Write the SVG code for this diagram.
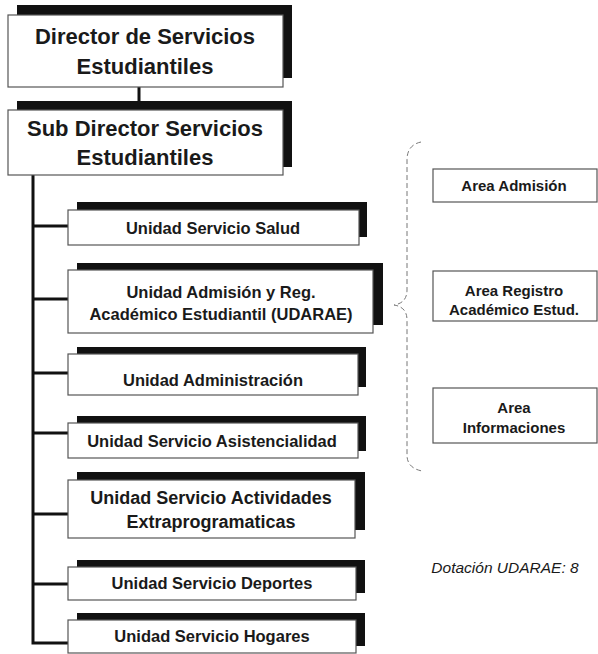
<svg xmlns="http://www.w3.org/2000/svg" width="598" height="654" viewBox="0 0 598 654">
<style>
.sh{fill:#111}
.bx{fill:#fff;stroke:#555;stroke-width:1.2}
.t{font-family:"Liberation Sans",Arial,sans-serif;font-weight:bold;fill:#1a1a1a;text-anchor:middle}
.big{font-size:22px}
.mid{font-size:16.5px}
.act{font-size:18px}
.sm{font-size:15px}
.conn{stroke:#111;stroke-width:3;fill:none}
.brace{stroke:#777;stroke-width:1;fill:none;stroke-dasharray:5 3}
</style>
<rect width="598" height="654" fill="#fff"/>
<g id="connectors">
<line class="conn" x1="139" y1="87" x2="139" y2="102"/>
<polyline class="conn" points="33,175 33,643 68,643"/>
<line class="conn" x1="33" y1="226" x2="68" y2="226"/>
<line class="conn" x1="33" y1="299" x2="68" y2="299"/>
<line class="conn" x1="33" y1="373" x2="68" y2="373"/>
<line class="conn" x1="33" y1="433" x2="68" y2="433"/>
<line class="conn" x1="33" y1="514" x2="68" y2="514"/>
<line class="conn" x1="33" y1="584" x2="68" y2="584"/>
<path class="brace" d="M421 142 Q407 145 407 160 L407 290 Q407 303 394 305 Q407 307 407 320 L407 455 Q407 468 422 471"/>
</g>
<g id="director">
<rect class="sh" x="17" y="5" width="275" height="73"/>
<rect class="bx" x="8" y="15" width="275" height="72"/>
<text class="t big" x="145" y="44">Director de Servicios</text>
<text class="t big" x="145" y="74">Estudiantiles</text>
</g>
<g id="subdirector">
<rect class="sh" x="17" y="101" width="275" height="66"/>
<rect class="bx" x="8" y="110" width="275" height="65"/>
<text class="t big" x="145" y="136">Sub Director Servicios</text>
<text class="t big" x="145" y="165">Estudiantiles</text>
</g>
<g id="salud">
<rect class="sh" x="77" y="202" width="290" height="35"/>
<rect class="bx" x="68" y="210" width="291" height="35"/>
<text class="t mid" x="213" y="234">Unidad Servicio Salud</text>
</g>
<g id="udarae">
<rect class="sh" x="77" y="263" width="306" height="62"/>
<rect class="bx" x="68" y="270" width="305" height="63"/>
<text class="t mid" x="221" y="298">Unidad Admisión y Reg.</text>
<text class="t mid" x="221" y="320">Académico Estudiantil (UDARAE)</text>
</g>
<g id="administracion">
<rect class="sh" x="77" y="347" width="289" height="40"/>
<rect class="bx" x="68" y="354" width="290" height="41"/>
<text class="t mid" x="213" y="386">Unidad Administración</text>
</g>
<g id="asistencialidad">
<rect class="sh" x="77" y="416" width="289" height="35"/>
<rect class="bx" x="68" y="423" width="290" height="35"/>
<text class="t mid" x="212" y="447">Unidad Servicio Asistencialidad</text>
</g>
<g id="actividades">
<rect class="sh" x="77" y="472" width="288" height="58"/>
<rect class="bx" x="68" y="480" width="287" height="58"/>
<text class="t act" x="211" y="504">Unidad Servicio Actividades</text>
<text class="t act" x="211" y="528">Extraprogramaticas</text>
</g>
<g id="deportes">
<rect class="sh" x="77" y="560" width="288" height="33"/>
<rect class="bx" x="68" y="567" width="288" height="33"/>
<text class="t mid" x="212" y="589">Unidad Servicio Deportes</text>
</g>
<g id="hogares">
<rect class="sh" x="77" y="613" width="288" height="33"/>
<rect class="bx" x="68" y="620" width="288" height="33"/>
<text class="t mid" x="212" y="642">Unidad Servicio Hogares</text>
</g>
<g id="area-admision">
<rect class="bx" x="433" y="169" width="164" height="33"/>
<text class="t sm" x="514" y="191">Area Admisión</text>
</g>
<g id="area-registro">
<rect class="bx" x="433" y="271" width="164" height="50"/>
<text class="t sm" x="514" y="296">Area Registro</text>
<text class="t sm" x="514" y="315">Académico Estud.</text>
</g>
<g id="area-informaciones">
<rect class="bx" x="433" y="388" width="164" height="55"/>
<text class="t sm" x="514" y="413">Area</text>
<text class="t sm" x="514" y="433">Informaciones</text>
</g>
<text x="505" y="573" font-family="'Liberation Sans',Arial,sans-serif" font-style="italic" font-size="15.5" fill="#1a1a1a" text-anchor="middle">Dotación UDARAE: 8</text>
</svg>
